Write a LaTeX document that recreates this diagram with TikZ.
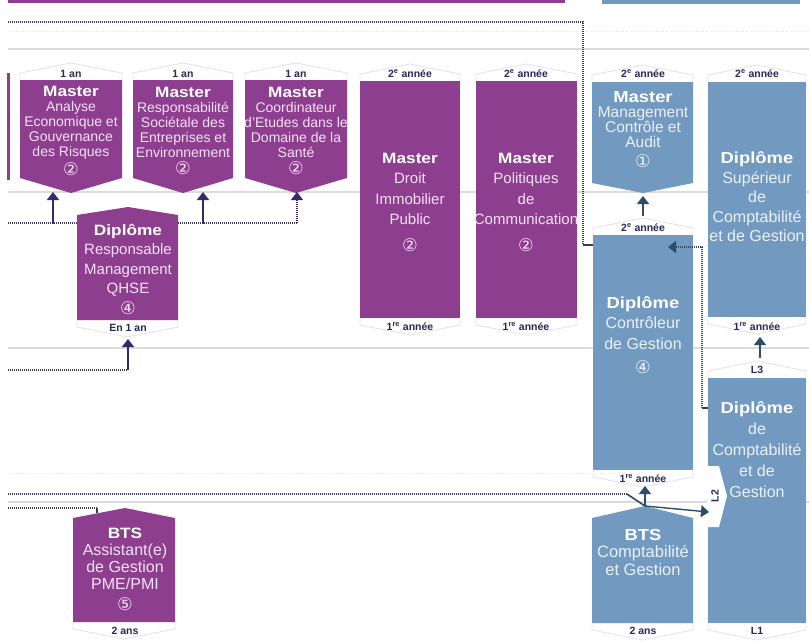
\documentclass[tikz,border=0pt]{standalone}
\usepackage{fontspec}
\setmainfont{Liberation Sans}
\newfontfamily\headf{Liberation Sans}[FakeStretch=1.15]
\newfontfamily\symf{DejaVu Sans}
\usetikzlibrary{arrows.meta}
\definecolor{mpurple}{HTML}{8E3E8E}
\definecolor{mblue}{HTML}{7299BF}
\definecolor{navy}{HTML}{2B2858}
\definecolor{ptext}{HTML}{F4E2F4}
\definecolor{btext}{HTML}{EAF1F8}
\definecolor{sepc}{HTML}{DCDCDC}
\definecolor{roofc}{HTML}{ECE2E8}
\definecolor{arrp}{HTML}{34296A}
\definecolor{arrb}{HTML}{2D4C6C}
\definecolor{dotc}{HTML}{3A3A58}
\newcommand\hd[2][15]{{\headf\bfseries\fontsize{#1}{15}\selectfont\color{white}#2}}
\newcommand\cn[1]{{\symf\fontsize{17.5}{15}\selectfont #1}}
\tikzset{
  pbox/.style={fill=mpurple},
  bbox/.style={fill=mblue},
  ptxt/.style={text=ptext, align=center, inner sep=0pt, font=\fontsize{14}{15}\selectfont},
  btxt/.style={text=btext, align=center, inner sep=0pt, font=\fontsize{16}{20}\selectfont},
  lbl/.style={text=navy, inner sep=0pt, font=\bfseries\fontsize{10.5}{11}\selectfont},
  sepline/.style={draw=sepc, line width=1.5pt},
  faintdot/.style={draw=roofc, line width=1pt, dash pattern=on 1pt off 1.5pt},
  roof/.style={draw=roofc, line width=0.9pt},
  dotline/.style={draw=dotc, line width=1.6pt, dash pattern=on 1pt off 1pt},
  parr/.style={draw=arrp, line width=1.6pt, -{Triangle[width=12pt,length=8pt]}},
  barr/.style={draw=arrb, line width=1.6pt, -{Triangle[width=12pt,length=8pt]}},
}
\begin{document}
\begin{tikzpicture}[x=1pt,y=-1pt]
\useasboundingbox (0,0) rectangle (809,641);
\fill[white] (0,0) rectangle (809,641);
% top bands
\fill[mpurple] (8,0) rectangle (565,3);
\fill[mblue] (602,0) rectangle (800,4);
% left strip
\fill[mpurple] (7,73) rectangle (10,180);
% separators
\foreach \yy in {49,192,348,502} \draw[sepline] (8,\yy) -- (809,\yy);
\draw[faintdot] (8,31) -- (809,31);
\draw[faintdot] (8,473) -- (615,473);
% roofs
\foreach \xa/\xb/\yt in {20/122/80, 133/233/80, 245/347/80, 360/460/81, 476/577/81, 592/693/82, 708/806/82, 593/693/235, 708/806/378}
  \draw[roof] (\xa,\yt) -- (\xa,\yt-7) -- ({(\xa+\xb)/2},\yt-17) -- (\xb,\yt-7) -- (\xb,\yt);
\foreach \xa/\xb/\yb in {360/460/318, 476/577/318, 708/806/317, 593/693/470, 77/178/320, 73/175/622, 592/693/623, 708/806/623}
  \draw[roof] (\xa,\yb) -- (\xa,\yb+7) -- ({(\xa+\xb)/2},\yb+17) -- (\xb,\yb+7) -- (\xb,\yb);
% purple boxes
\path[pbox] (20,80) -- (122,80) -- (122,178) -- (71,193) -- (20,178) -- cycle;
\path[pbox] (133,80) -- (233,80) -- (233,178) -- (183,193) -- (133,178) -- cycle;
\path[pbox] (245,80) -- (347,80) -- (347,178) -- (296,193) -- (245,178) -- cycle;
\path[pbox] (360,81) rectangle (460,318);
\path[pbox] (476,81) rectangle (577,318);
\path[pbox] (77,215) -- (128,207) -- (178,215) -- (178,320) -- (77,320) -- cycle;
\path[pbox] (73,518) -- (125,508) -- (175,518) -- (175,622) -- (73,622) -- cycle;
% blue boxes
\path[bbox] (592,82) -- (693,82) -- (693,183) -- (643,193) -- (592,183) -- cycle;
\path[bbox] (708,82) rectangle (806,317);
\path[bbox] (593,235) rectangle (693,470);
\path[bbox] (708,378) rectangle (806,623);
\path[bbox] (592,518) -- (645,506) -- (693,518) -- (693,623) -- (592,623) -- cycle;
\fill[white] (707,466) -- (719,466) -- (727,496) -- (719,527) -- (707,527) -- cycle;
% box texts
\node[ptxt] (tA) at (71,131) {\hd{Master}\\Analyse\\Economique et\\Gouvernance\\des Risques\\[2pt]\cn{②}};
\node[ptxt] (tB) at (183,131) {\hd{Master}\\Responsabilité\\Sociétale des\\Entreprises et\\Environnement\\[2pt]\cn{②}};
\node[ptxt] (tC) at (296,131) {\hd{Master}\\Coordinateur\\d'Etudes dans le\\Domaine de la\\Santé\\[2pt]\cn{②}};
\node[ptxt, font=\fontsize{15}{20.5}\selectfont] (tD) at (410,202) {\hd{Master}\\Droit\\Immobilier\\Public\\[6pt]\cn{②}};
\node[ptxt, font=\fontsize{15}{20.5}\selectfont] (tE) at (526,202) {\hd{Master}\\Politiques\\de\\Communication\\[6pt]\cn{②}};
\node[ptxt, font=\fontsize{15}{19.5}\selectfont] (tK) at (128,269) {\hd{Diplôme}\\Responsable\\Management\\QHSE\\[1pt]\cn{④}};
\node[ptxt, font=\fontsize{16}{17}\selectfont] (tL) at (125,569) {\hd{BTS}\\Assistant(e)\\de Gestion\\PME/PMI\\[4pt]\cn{⑤}};
\node[btxt, font=\fontsize{15.5}{15}\selectfont] (tF) at (643,130) {\hd[16]{Master}\\Management\\Contrôle et\\Audit\\[5pt]\cn{①}};
\node[btxt, font=\fontsize{16}{19.5}\selectfont] (tH) at (757,197) {\hd[16]{Diplôme}\\Supérieur\\de\\Comptabilité\\et de Gestion};
\node[btxt, font=\fontsize{16}{20.5}\selectfont] (tG) at (643,335) {\hd[16]{Diplôme}\\Contrôleur\\de Gestion\\[4pt]\cn{④}};
\node[btxt, font=\fontsize{16}{21}\selectfont] (tI) at (757,450) {\hd[16]{Diplôme}\\de\\Comptabilité\\et de\\Gestion};
\node[btxt, font=\fontsize{16.5}{17.5}\selectfont] (tJ) at (643,552) {\hd[16]{BTS}\\Comptabilité\\et Gestion};
% labels
\node[lbl] (lA) at (71,74) {1 an};
\node[lbl] (lB) at (183,74) {1 an};
\node[lbl] (lC) at (296,74) {1 an};
\node[lbl] (lD2) at (410,74) {2\textsuperscript{e} année};
\node[lbl] (lD1) at (410,327) {1\textsuperscript{re} année};
\node[lbl] (lE2) at (526,74) {2\textsuperscript{e} année};
\node[lbl] (lE1) at (526,327) {1\textsuperscript{re} année};
\node[lbl] (lF) at (643,74) {2\textsuperscript{e} année};
\node[lbl] (lH2) at (757,74) {2\textsuperscript{e} année};
\node[lbl] (lH1) at (757,327) {1\textsuperscript{re} année};
\node[lbl] (lG2) at (643,228) {2\textsuperscript{e} année};
\node[lbl] (lG1) at (643,479) {1\textsuperscript{re} année};
\node[lbl] (lI3) at (757,370) {L3};
\node[lbl] (lI1) at (757,631) {L1};
\node[lbl, rotate=90] (lI2) at (715,496) {L2};
\node[lbl] (lK) at (128,328) {En 1 an};
\node[lbl] (lL) at (125,631) {2 ans};
\node[lbl] (lJ) at (643,631) {2 ans};
% connectors
\coordinate (topL) at (8,22);
\coordinate (topC) at (583,22);
\coordinate (topD) at (583,245);
\coordinate (gW) at (593,245);
\draw[dotline] (topL) -- (topC) -- (topD);
\draw[draw=dotc, line width=1.6pt] (topD) -- (gW);
\coordinate (q1) at (8,223);
\coordinate (q2) at (77,223);
\coordinate (q3) at (178,223);
\coordinate (q4) at (297,223);
\draw[dotline] (q1) -- (q2);
\draw[dotline] (q3) -- (q4);
\coordinate (a1b) at (53,224);
\coordinate (a1t) at (53,192);
\coordinate (a2b) at (203,224);
\coordinate (a2t) at (203,192);
\coordinate (a3t) at (297,192);
\draw[parr] (a1b) -- (a1t);
\draw[parr] (a2b) -- (a2t);
\draw[parr, line width=1.2pt, dash pattern=on 1pt off 1pt] (q4) -- (a3t);
\coordinate (b1) at (8,370);
\coordinate (b2) at (128,370);
\coordinate (b3) at (128,339);
\draw[dotline] (b1) -- (b2);
\draw[parr] (b2) -- (b3);
\coordinate (gf1) at (643,216);
\coordinate (gf2) at (643,196);
\draw[barr, line width=1.2pt] (gf1) -- (gf2);
\coordinate (ih1) at (760,358);
\coordinate (ih2) at (760,337);
\draw[barr, line width=1.2pt] (ih1) -- (ih2);
\coordinate (i1) at (708,408);
\coordinate (i2) at (702,408);
\coordinate (i3) at (702,247);
\coordinate (i4) at (668,247);
\draw[draw=dotc, line width=1.6pt] (i1) -- (i2);
\draw[dotline, -{Triangle[width=12pt,length=8pt]}, arrb] (i2) -- (i3) -- (i4);
\coordinate (d1) at (8,494);
\coordinate (d2) at (627,494);
\coordinate (japex) at (645,506);
\coordinate (jt) at (645,486);
\coordinate (jr) at (709,512);
\draw[dotline] (d1) -- (d2);
\draw[draw=arrb, line width=1.6pt] (d2) -- (japex);
\draw[barr, line width=1.2pt] (japex) -- (jt);
\draw[barr, line width=1.4pt] (japex) -- (jr);
\coordinate (e1) at (8,508);
\coordinate (e2) at (97,508);
\coordinate (e3) at (97,513);
\draw[dotline] (e1) -- (e2);
\draw[draw=dotc, line width=1.6pt] (e2) -- (e3);
\end{tikzpicture}
\end{document}
